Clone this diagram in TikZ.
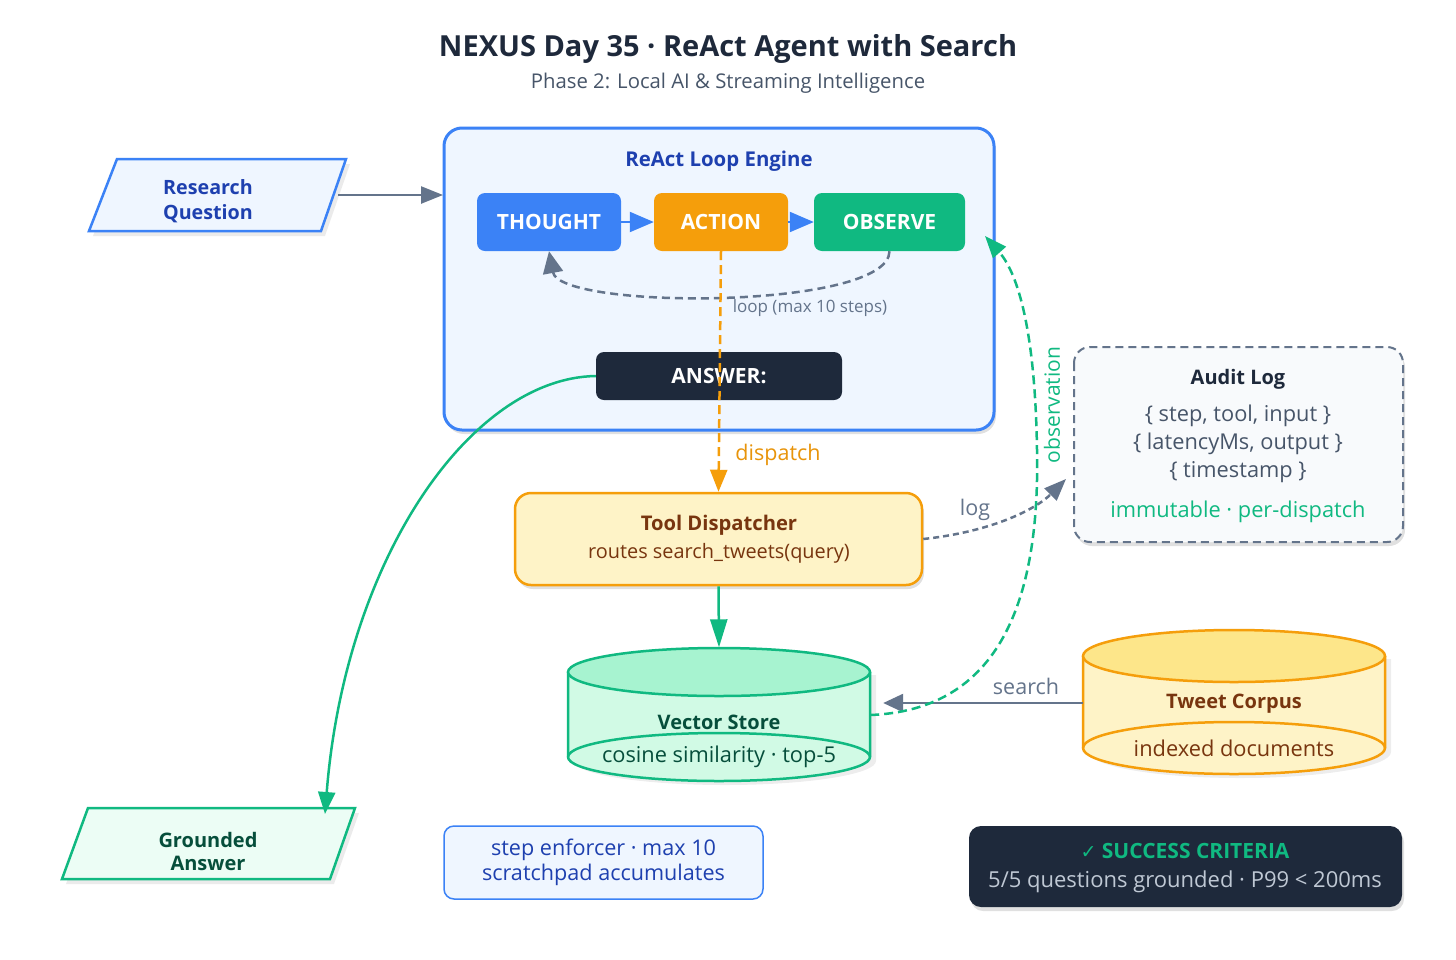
\documentclass[tikz,border=0pt]{standalone}
\usepackage{fontspec}
\setmainfont{Open Sans}
\newfontfamily\symfont{DejaVu Sans}
\usetikzlibrary{arrows.meta,shapes.geometric,calc,shadows}
\definecolor{navy}{HTML}{1E293B}
\definecolor{slate}{HTML}{64748B}
\definecolor{slatetext}{HTML}{475569}
\definecolor{blueA}{HTML}{3B82F6}
\definecolor{blueD}{HTML}{1E40AF}
\definecolor{blueL}{HTML}{EFF6FF}
\definecolor{amber}{HTML}{F59E0B}
\definecolor{amberL}{HTML}{FEF3C7}
\definecolor{amberM}{HTML}{FDE68A}
\definecolor{brownD}{HTML}{78350F}
\definecolor{greenA}{HTML}{10B981}
\definecolor{greenL}{HTML}{D1FAE5}
\definecolor{greenM}{HTML}{A7F3D0}
\definecolor{greenXL}{HTML}{ECFDF5}
\definecolor{greenD}{HTML}{064E3B}
\definecolor{grayL}{HTML}{F8FAFC}
\definecolor{lighttext}{HTML}{BFC8D4}
\definecolor{orangeT}{HTML}{E8940A}
\newcommand\setfs[1]{\fontsize{#1}{\fpeval{#1*1.3}}\selectfont}
\tikzset{
  fs/.style={font=\setfs{#1}},
  fsb/.style={font=\setfs{#1}\bfseries},
  stepbox/.style={rounded corners=8pt, minimum height=58pt, text=white, fsb=21},
  shade/.style={drop shadow={shadow xshift=2pt, shadow yshift=-4pt, opacity=0.12, fill=black}},
  tip/.style={-{Triangle[length=22pt,width=17pt]}},
}
\begin{document}
\begin{tikzpicture}[x=1pt,y=-1pt]
\useasboundingbox (0,0) rectangle (1456,959);
\fill[white] (0,0) rectangle (1456,959);

% title
\node[text=navy, fsb=29] (title) at (728,49) {NEXUS Day 35 · ReAct Agent with Search};
\node[text=slatetext, fs=20.3] (subtitle) at (728,83) {Phase 2: Local AI \& Streaming Intelligence};

% engine
\draw[blueA, line width=3pt, fill=blueL, rounded corners=18pt, shade] (444,128) rectangle (994,430);
\node[inner sep=0] (engine) at (719,279) {};
\node[text=blueD, fsb=20.4] (enginetitle) at (719,161) {ReAct Loop Engine};

\node[stepbox, fill=blueA, minimum width=144pt] (thought) at (549,222) {THOUGHT};
\node[stepbox, fill=amber, minimum width=134pt] (action) at (721,222) {ACTION};
\node[stepbox, fill=greenA, minimum width=151pt] (observe) at (889.5,222) {OBSERVE};

\draw[blueA, line width=2pt, -{Triangle[length=24pt,width=20pt]}] (thought.east) -- (action.west);
\draw[blueA, line width=2pt, -{Triangle[length=24pt,width=20pt]}] (action.east) -- (observe.west);

\draw[slate, line width=2.5pt, dash pattern=on 8pt off 5pt, -{Triangle[length=22pt,width=20pt]}]
  (observe.south) .. controls (889,310) and (560,310) .. (thought.south);
\node[text=slate, fs=17] (looplbl) at (810,308) {loop (max 10 steps)};

\node[fill=navy, rounded corners=8pt, minimum width=246pt, minimum height=48pt, text=white, fsb=21] (answer) at (719,376) {ANSWER:};

% research question
\fill[black, opacity=0.08] (121,164) -- (350,164) -- (325,236) -- (93,236) -- cycle;
\draw[blueA, line width=2.5pt, fill=blueL] (117,159) -- (346,159) -- (321,231) -- (89,231) -- cycle;
\node[text=blueD, align=center, fsb=19.7, minimum width=230pt, minimum height=72pt] (rq) at (217,201) {\hspace*{-18pt}Research\\\hspace*{-18pt}Question};
\draw[slate, line width=2.5pt, tip] (338,195) -- (443,195);

% tool dispatcher
\node[draw=amber, line width=2.5pt, fill=amberL, rounded corners=16pt, minimum width=407pt, minimum height=92pt, shade] (disp) at (718.5,539) {};
\node[text=brownD, fsb=20.2] (disptitle) at (719,525) {Tool Dispatcher};
\node[text=brownD, fs=19.9] (dispsub) at (719,553) {routes search\_tweets(query)};

\draw[amber, line width=2.5pt, dash pattern=on 9pt off 5pt, tip] (action.south) -- (disp.north);
\node[text=orangeT, fs=21.5] (displbl) at (778,455) {dispatch};

% vector store
\fill[black, opacity=0.07] (574,675) -- (574,761) arc[start angle=180, end angle=0, x radius=151, y radius=24] -- (876,675) -- cycle;
\draw[greenA, line width=2.5pt, fill=greenL] (568,672) -- (568,757) arc[start angle=180, end angle=0, x radius=151, y radius=24] -- (870,672);
\draw[greenA, line width=2.5pt, fill=greenM] (719,672) ellipse[x radius=151, y radius=24];
\draw[greenA, line width=2.5pt] (568,757) arc[start angle=180, end angle=360, x radius=151, y radius=24];
\node[inner sep=0, minimum width=302pt, minimum height=133pt] (vs) at (719,714) {};
\node[text=greenD, fsb=20] (vstitle) at (719,722) {Vector Store};
\node[text=greenD, fs=21.8] (vssub) at (719,757) {cosine similarity · top-5};

\draw[greenA, line width=2.5pt, -{Triangle[length=28pt,width=17pt]}] (disp.south) -- (vs.north);

% tweet corpus
\fill[black, opacity=0.07] (1089,659) -- (1089,752) arc[start angle=180, end angle=0, x radius=151, y radius=26] -- (1391,659) -- cycle;
\draw[amber, line width=2.5pt, fill=amberL] (1083,656) -- (1083,748) arc[start angle=180, end angle=0, x radius=151, y radius=26] -- (1385,656);
\draw[amber, line width=2.5pt, fill=amberM] (1234,656) ellipse[x radius=151, y radius=26];
\draw[amber, line width=2.5pt] (1083,748) arc[start angle=180, end angle=360, x radius=151, y radius=26];
\node[inner sep=0, minimum width=302pt, minimum height=144pt] (tc) at (1234,703) {};
\node[text=brownD, fsb=20] (tctitle) at (1234,704) {Tweet Corpus};
\node[text=brownD, fs=21.8] (tcsub) at (1234,748) {indexed documents};

\draw[slate, line width=2.5pt, -{Triangle[length=20pt,width=18pt]}] (tc.west) -- ($(vs.east)+(13,-11)$);
\node[text=slate, fs=21.5] (searchlbl) at (1026,686) {search};

% audit log
\draw[slate, line width=2pt, dash pattern=on 8pt off 5pt, fill=grayL, rounded corners=16pt, shade] (1074,347) rectangle (1403,542);
\node[inner sep=0, minimum width=329pt, minimum height=195pt] (audit) at (1238.5,444.5) {};
\node[text=navy, fsb=20] (audittitle) at (1238,379) {Audit Log};
\node[text=slatetext, fs=21.8, align=center] (auditbody) at (1238,444) {\{ step, tool, input \}\\[-0.5pt]\{ latencyMs, output \}\\[-0.5pt]\{ timestamp \}};
\node[text=greenA, fs=21.8] (auditfoot) at (1238,512) {immutable · per-dispatch};

% log arrow
\draw[slate, line width=2.5pt, dash pattern=on 6pt off 4pt, tip] (disp.east) .. controls (990,532) and (1035,510) .. (1066,479);
\node[text=slate, fs=21.5] (loglbl) at (975,510) {log};

% observation arrow
\draw[greenA, line width=2.5pt, dash pattern=on 9pt off 5pt, tip]
  ($(vs.east)+(0,1)$) .. controls (1000,710) and (1040,600) .. (1037,450)
  .. controls (1035,320) and (1015,270) .. (985,236);
\node[text=greenA, fs=21] (obslbl) at (1052,405) [rotate=90] {observation};

% grounded answer
\fill[black, opacity=0.08] (92,813) -- (359,813) -- (334,884) -- (66,884) -- cycle;
\draw[greenA, line width=2.5pt, fill=greenXL] (88,808) -- (355,808) -- (330,879) -- (62,879) -- cycle;
\node[text=greenD, align=center, fsb=20, minimum width=260pt, minimum height=71pt] (ga) at (208,851) {Grounded\\[-3pt]Answer};

\draw[greenA, line width=2.5pt, tip] (answer.west) .. controls (470,378) and (345,560) .. (325,814);

% step enforcer
\node[draw=blueA, line width=1.5pt, fill=blueL, rounded corners=10pt, minimum width=319pt, minimum height=73pt, text=blueD, align=center, fs=21.6] (enf) at (603.5,862.5) {step enforcer · max 10\\[-3pt]scratchpad accumulates};

% success
\node[fill=navy, rounded corners=12pt, minimum width=433pt, minimum height=81pt, shade] (succ) at (1185.5,866.5) {};
\node[text=greenA, fsb=21] (succtitle) at (1185,851) {{\symfont\fontsize{19}{22}\selectfont ✓} SUCCESS CRITERIA};
\node[text=lighttext, fs=22] (succsub) at (1185,882) {5/5 questions grounded · P99 < 200ms};
\end{tikzpicture}
\end{document}
